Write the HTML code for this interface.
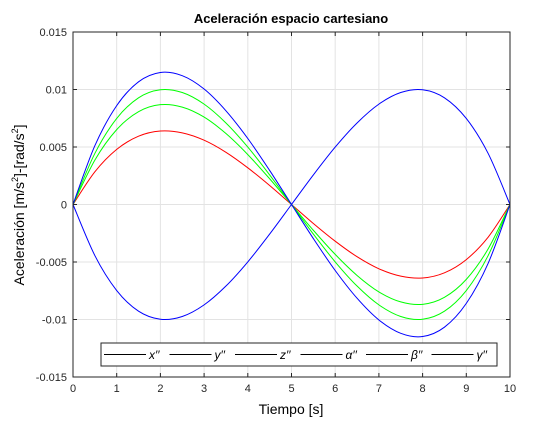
<!DOCTYPE html>
<html><head><meta charset="utf-8"><style>
body{margin:0;background:#fff;}
svg{font-family:"Liberation Sans",sans-serif;}
</style></head><body>
<svg id="c" width="560" height="420" xmlns="http://www.w3.org/2000/svg">
<rect width="560" height="420" fill="#fff"/>
<rect x="73" y="32" width="437" height="345" fill="#fff" stroke="none"/>
<g id="grid"></g><g id="series"></g><g id="axes"></g>
<text x="291" y="23" text-anchor="middle" font-size="13" font-weight="bold">Aceleración espacio cartesiano</text>
<text x="291" y="414" text-anchor="middle" font-size="14">Tiempo [s]</text>
<text transform="translate(24,205) rotate(-90)" text-anchor="middle" font-size="14">Aceleración [m/s<tspan font-size="9" dy="-6">2</tspan><tspan dy="6">]-[rad/s</tspan><tspan font-size="9" dy="-6">2</tspan><tspan dy="6">]</tspan></text>
<g id="legend"></g>
</svg>
<script>
const times=[0,0.5,1,1.5,2,2.5,3,3.5,4,4.5,5,5.5,6,6.5,7,7.5,8,8.5,9,9.5,10];
const xRed=[0,.00284,.00479,.00594,.00639,.00623,.00559,.00454,.00319,.00165,0,-.00165,-.00319,-.00454,-.00559,-.00623,-.00639,-.00594,-.00479,-.00284,0];
const yGreen=[0,.00386,.00651,.00807,.00868,.00847,.00760,.00617,.00434,.00224,0,-.00224,-.00434,-.00617,-.00760,-.00847,-.00868,-.00807,-.00651,-.00386,0];
const zGreen=[0,.00444,.00748,.00928,.00998,.00974,.00873,.00709,.00499,.00257,0,-.00257,-.00499,-.00709,-.00873,-.00974,-.00998,-.00928,-.00748,-.00444,0];
const aBlue=[0,.00511,.00860,.01067,.01148,.01120,.01004,.00815,.00574,.00296,0,-.00296,-.00574,-.00815,-.01004,-.01120,-.01148,-.01067,-.00860,-.00511,0];
const bBlue=[0,-.00444,-.00748,-.00928,-.00998,-.00974,-.00873,-.00709,-.00499,-.00257,0,.00257,.00499,.00709,.00873,.00974,.00998,.00928,.00748,.00444,0];
const xTicks=[0,1,2,3,4,5,6,7,8,9,10];
const yTicks=[-0.015,-0.01,-0.005,0,0.005,0.01,0.015];
const yTickLabels=["-0.015","-0.01","-0.005","0","0.005","0.01","0.015"];
const legendLabels=["x′′","y′′","z′′","α′′","β′′","γ′′"];
const NS="http://www.w3.org/2000/svg";
const L=73,R=510,T=32,B=377;
const sx=v=>L+(v-0)/10*(R-L);
const sy=v=>B-(v+0.015)/0.03*(B-T);
function mk(tag,attrs,parent){const e=document.createElementNS(NS,tag);for(const k in attrs)e.setAttribute(k,attrs[k]);parent.appendChild(e);return e;}
const grid=document.getElementById('grid'),axes=document.getElementById('axes'),ser=document.getElementById('series'),leg=document.getElementById('legend');
xTicks.forEach(t=>{
 const g=mk('line',{x1:sx(t),x2:sx(t),y1:T,y2:B,stroke:'#e3e3e3','stroke-width':1},grid);
 
 
 mk('line',{x1:sx(t),x2:sx(t),y1:B,y2:B-4,stroke:'#262626'},axes);
 mk('line',{x1:sx(t),x2:sx(t),y1:T,y2:T+4,stroke:'#262626'},axes);
 const tx=mk('text',{x:sx(t),y:B+15,'text-anchor':'middle','font-size':11,fill:'#262626'},axes);
 tx.textContent=t;
 
 
});
yTicks.forEach((t,i)=>{
 const g=mk('line',{x1:L,x2:R,y1:sy(t),y2:sy(t),stroke:'#e3e3e3','stroke-width':1},grid);
 
 
 mk('line',{x1:L,x2:L+4,y1:sy(t),y2:sy(t),stroke:'#262626'},axes);
 mk('line',{x1:R,x2:R-4,y1:sy(t),y2:sy(t),stroke:'#262626'},axes);
 const tx=mk('text',{x:L-6,y:sy(t)+4,'text-anchor':'end','font-size':11,fill:'#262626'},axes);
 tx.textContent=yTickLabels[i];
 
 
});
const box=mk('rect',{x:L,y:T,width:R-L,height:B-T,fill:'none',stroke:'#262626','stroke-width':1},axes);


function path(vals){
 const p=vals.map((v,i)=>[sx(times[i]),sy(v)]);
 let d='M'+p[0][0]+','+p[0][1];
 for(let i=0;i<p.length-1;i++){
  const p0=p[Math.max(0,i-1)],p1=p[i],p2=p[i+1],p3=p[Math.min(p.length-1,i+2)];
  d+=' C'+(p1[0]+(p2[0]-p0[0])/6)+','+(p1[1]+(p2[1]-p0[1])/6)+' '+(p2[0]-(p3[0]-p1[0])/6)+','+(p2[1]-(p3[1]-p1[1])/6)+' '+p2[0]+','+p2[1];
 }
 return d;
}
[[xRed,'#ff0000','series-x'],[yGreen,'#00ff00','series-y'],[zGreen,'#00ff00','series-z'],[aBlue,'#0000ff','series-alpha'],[bBlue,'#0000ff','series-beta']].forEach(s=>{
 const e=mk('path',{d:path(s[0]),fill:'none',stroke:s[1],'stroke-width':1},ser);
 
 
});
const lb=mk('rect',{x:101,y:343,width:396,height:23,fill:'#fff',stroke:'#262626','stroke-width':1},leg);


legendLabels.forEach((t,i)=>{
 const x0=104+i*65.5;
 const ln=mk('line',{x1:x0,x2:x0+42,y1:354.5,y2:354.5,stroke:'#000'},leg);
 
 
 const tx=mk('text',{x:x0+45,y:359,'font-size':12,'font-style':'italic'},leg);
 tx.textContent=t;
 
 
});
</script>
</body></html>
